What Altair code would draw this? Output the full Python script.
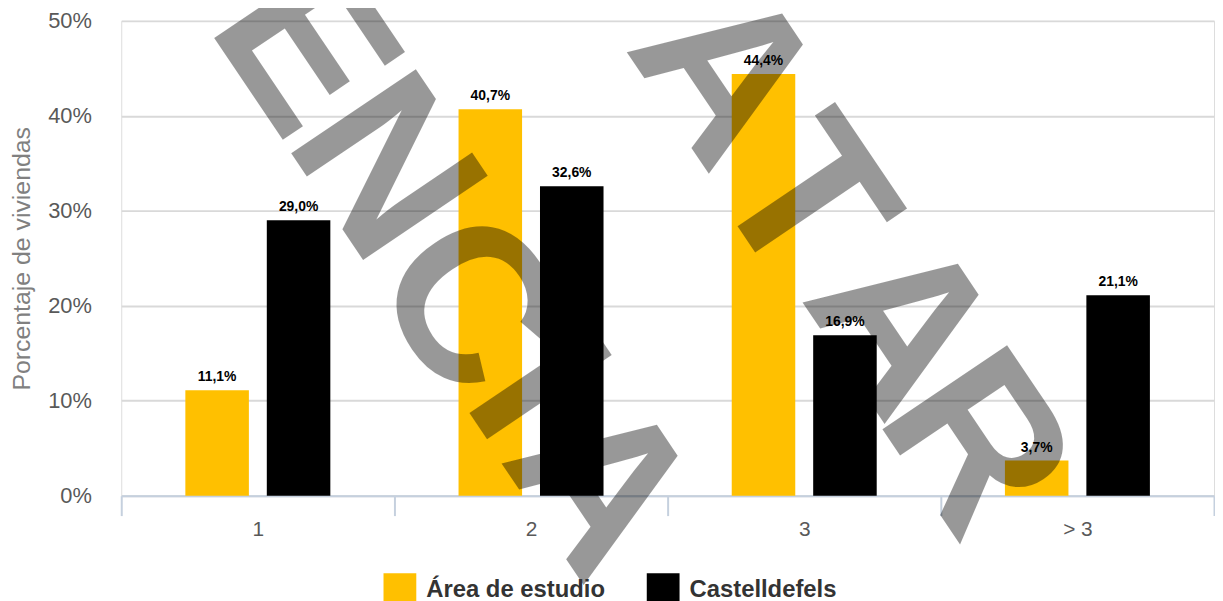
import altair as alt
import pandas as pd

categories = ["1", "2", "3", "> 3"]
series = ["Área de estudio", "Castelldefels"]
area_values = [11.1, 40.7, 44.4, 3.7]
castell_values = [29.0, 32.6, 16.9, 21.1]
y_ticks = [0, 0.1, 0.2, 0.3, 0.4, 0.5]
colors = ["#FFC000", "#000000"]
watermark_letters = ["E", "N", "C", "I", "A", "A", "T", "A", "R"]

rows = []
for s, vals in zip(series, [area_values, castell_values]):
    for c, v in zip(categories, vals):
        rows.append({"cat": c, "serie": s, "val": v / 100,
                     "label": f"{v:.1f}".replace(".", ",") + "%"})
df = pd.DataFrame(rows)

FONT = "Liberation Sans"

x = alt.X("cat:N", sort=categories, title=None,
          scale=alt.Scale(paddingInner=0, paddingOuter=0),
          axis=alt.Axis(labelAngle=0, tickBand="extent", ticks=True, tickSize=20,
                        tickColor="#c5d0de", tickWidth=2, domainColor="#c5d0de", domainWidth=2,
                        labelFontSize=21, labelColor="#595959", labelPadding=3,
                        labelFont=FONT, grid=False))
xoff = alt.XOffset("serie:N", sort=series,
                   scale=alt.Scale(paddingInner=0.22, paddingOuter=0.787))
y = alt.Y("val:Q", scale=alt.Scale(domain=[0, 0.5]),
          axis=alt.Axis(format=".0%", values=y_ticks, title="Porcentaje de viviendas",
                        grid=True, gridColor="#d9d9d9", gridWidth=2, domain=False, ticks=False,
                        labelFontSize=22, labelColor="#595959", labelPadding=30, labelFont=FONT,
                        titleFontSize=25, titleColor="#808080", titleFontWeight="normal",
                        titleFont=FONT, titlePadding=13))

base = alt.Chart(df)
bars = base.mark_bar().encode(
    x=x, xOffset=xoff, y=y,
    color=alt.Color("serie:N", sort=series,
                    scale=alt.Scale(domain=series, range=colors),
                    legend=alt.Legend(title=None, orient="none", legendX=264, legendY=556,
                                      direction="horizontal", symbolType="square",
                                      symbolSize=1089, symbolStrokeWidth=0,
                                      labelFontSize=24, labelFontWeight="bold",
                                      labelColor="#333333", labelFont=FONT, labelLimit=400,
                                      labelOffset=10, columnPadding=41)),
)
labels = base.mark_text(dy=-9, baseline="alphabetic", fontSize=14, fontWeight="bold",
                        font=FONT, color="black").encode(
    x=x, xOffset=xoff, y=y, text="label:N")

# watermark letter anchors (pixels inside the plot area)
wm_pos = [(181, 29), (262, 150), (346, 288), (414, 371), (479, 470),
          (605, 56), (684, 183), (782, 308), (857, 428)]
wm_layers = []
for letter, (px, py) in zip(watermark_letters, wm_pos):
    wm_layers.append(
        alt.Chart(pd.DataFrame({"w": [letter]})).mark_text(
            font=FONT, fontWeight="bold", fontSize=220, angle=56, color="black",
            opacity=0.4, align="center", baseline="middle").encode(
            text="w:N", x=alt.value(px), y=alt.value(py)))

chart = alt.layer(bars, labels, *wm_layers).properties(
    width=1100, height=478,
    autosize=alt.AutoSizeParams(type="none"),
    padding={"left": 114, "top": 11, "right": 1, "bottom": 104},
).configure_view(stroke=None).configure(font=FONT)

chart.save("out.html", embed_options={"renderer": "svg", "actions": False})
